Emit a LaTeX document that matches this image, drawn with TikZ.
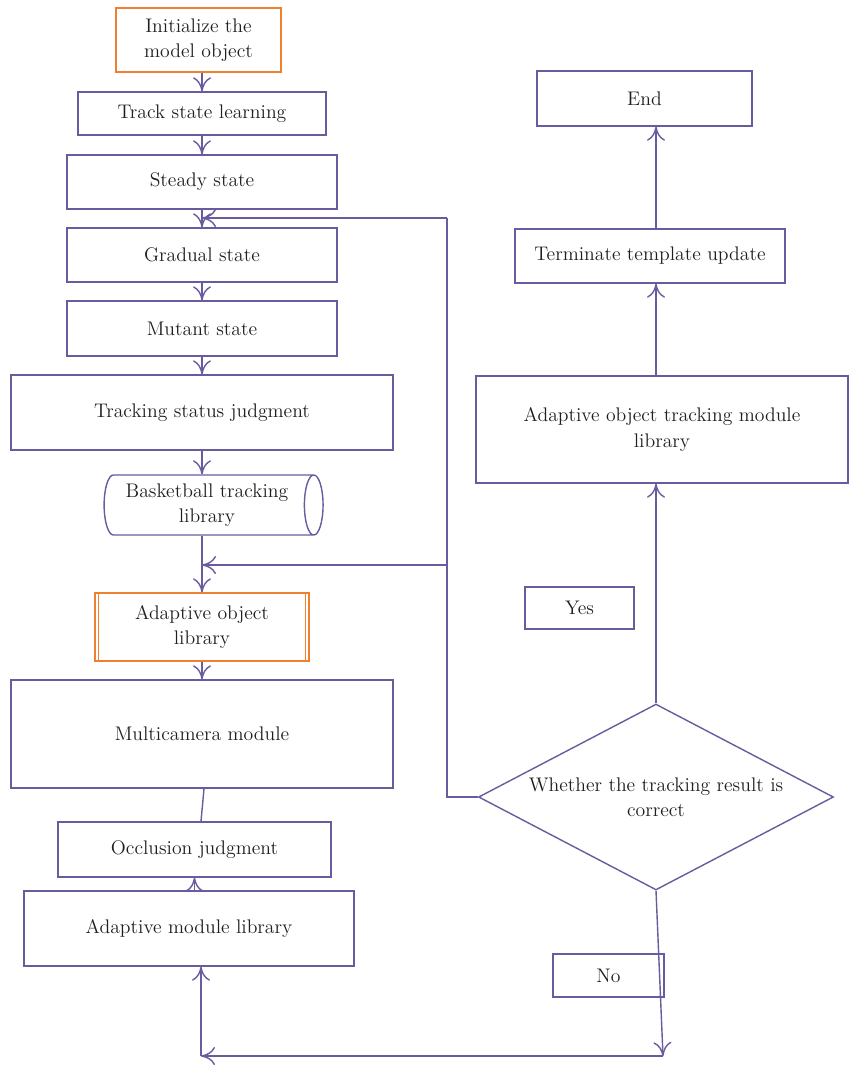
\documentclass[tikz,border=0pt]{standalone}
\usepackage{tikz}
\usetikzlibrary{arrows.meta,shapes.geometric}
\definecolor{lilac}{RGB}{106,90,158}
\definecolor{peach}{RGB}{240,128,48}
\tikzset{
  box/.style 2 args={draw=lilac,line width=0.8pt,align=center,text=black!88,inner sep=1pt,
    minimum width=#1cm,minimum height=#2cm,font=\fontsize{11.2}{14.5}\selectfont},
  arr/.style={draw=lilac,line width=0.8pt,-{Computer Modern Rightarrow[length=2.8mm,width=3.6mm]}},
  wire/.style={draw=lilac,line width=0.8pt}
}
\begin{document}
\begin{tikzpicture}[x=0.02cm,y=-0.02cm]
\useasboundingbox (0,0) rectangle (850,1066);
\node[box={3.3}{1.28},draw=peach] (init) at (198.5,40) {Initialize the\\model object};
\node[box={4.96}{0.86}] (track) at (202,113.5) {Track state learning};
\node[box={5.4}{1.08}] (steady) at (202,182) {Steady state};
\node[box={5.4}{1.08}] (gradual) at (202,255) {Gradual state};
\node[box={5.4}{1.1}] (mutant) at (202,328.5) {Mutant state};
\node[box={7.64}{1.5}] (status) at (202,412.5) {Tracking status judgment};
\node[box={1.2}{4.38},cylinder,shape border rotate=0,aspect=0.4] (bball) at (207,505) {Basketball tracking\\library};
\node[box={4.28}{1.36},draw=peach] (adobj) at (202,627) {Adaptive object\\library};
\draw[peach,line width=0.8pt] ([xshift=0.08cm]adobj.north west) -- ([xshift=0.08cm]adobj.south west);
\draw[peach,line width=0.8pt] ([xshift=-0.08cm]adobj.north east) -- ([xshift=-0.08cm]adobj.south east);
\node[box={7.64}{2.16}] (multi) at (202,734) {Multicamera module};
\node[box={5.46}{1.1}] (occl) at (194.5,849.5) {Occlusion judgment};
\node[box={6.6}{1.5}] (admod) at (189,928.5) {Adaptive module library};
\node[box={7.1}{3.72},diamond,aspect=1.9,inner sep=0pt] (check) at (656,797) {Whether the tracking result is\\correct};
\node[box={4.3}{1.1}] (end) at (644.5,98.5) {End};
\node[box={5.4}{1.08}] (term) at (650,256) {Terminate template update};
\node[box={7.44}{2.14}] (atm) at (662,429.5) {Adaptive object tracking module\\library};
\node[box={2.18}{0.84}] (yes) at (579.5,608) {Yes};
\node[box={2.22}{0.86}] (no) at (608.5,975.5) {No};
\coordinate (loopa) at (447,218);
\coordinate (loopb) at (447,565);
\coordinate (downr) at (663,1056);
\coordinate (downl) at (201,1056);
\draw[arr] (init.south -| track.north) -- (track.north);
\draw[arr] (track.south) -- (steady.north);
\draw[arr] (steady.south) -- (gradual.north);
\draw[arr] (gradual.south) -- (mutant.north);
\draw[arr] (mutant.south) -- (status.north);
\draw[arr] (status.south) -- (status.south |- bball.north);
\draw[arr] (bball.south -| adobj.north) -- (adobj.north);
\draw[arr] (adobj.south -| multi.north) -- (multi.north);
\draw[wire] ([xshift=0.04cm]multi.south) -- (occl.north -| downl);
\draw[arr] (admod.north -| occl.south) -- (occl.south);
\draw[wire] (check.west) -| (loopa);
\draw[arr] (loopa) -- (loopa -| steady.south);
\draw[arr] (loopb) -- (loopb -| adobj.north);
\draw[arr] (check.north) -- (check.north |- atm.south);
\draw[arr] (check.north |- atm.north) -- (check.north |- term.south);
\draw[arr] (check.north |- term.north) -- (check.north |- end.south);
\draw[arr] (check.south) -- (downr);
\draw[arr] (downr) -- (downl);
\draw[arr] (downl) -- (downl |- admod.south);
\end{tikzpicture}
\end{document}
